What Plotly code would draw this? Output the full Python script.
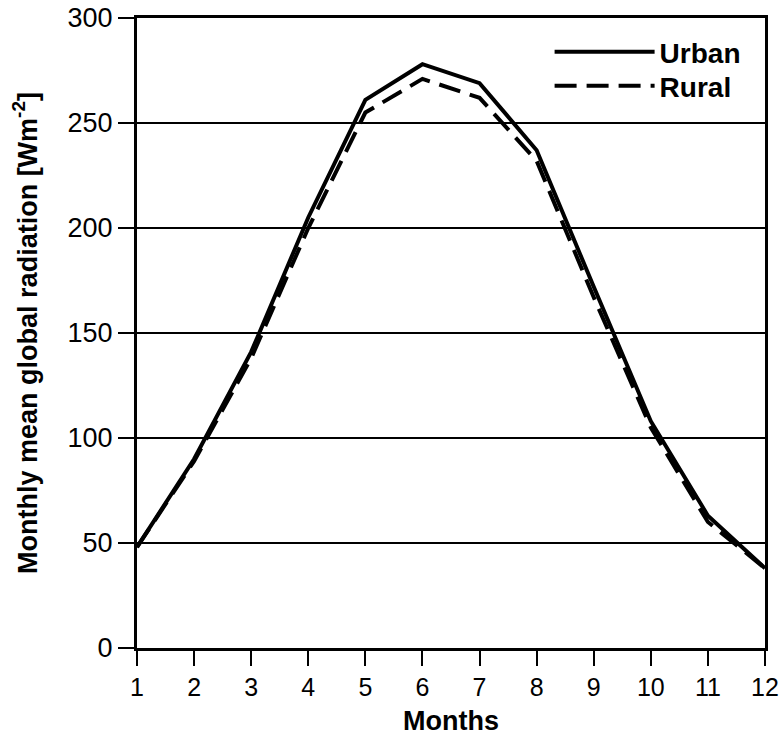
import plotly.graph_objects as go

months = [1, 2, 3, 4, 5, 6, 7, 8, 9, 10, 11, 12]
urban = [48, 90, 141, 205, 261, 278, 269, 237, 172, 108, 63, 38]
rural = [48, 89, 138, 200, 255, 271, 262, 232, 167, 105, 60, 38]
y_ticks = [0, 50, 100, 150, 200, 250, 300]

fig = go.Figure()
fig.add_trace(go.Scatter(x=months, y=urban, mode="lines", name="Urban",
                         line=dict(color="black", width=4), legend="legend"))
fig.add_trace(go.Scatter(x=months, y=rural, mode="lines", name="Rural",
                         line=dict(color="black", width=4, dash="22px,10px"),
                         legend="legend2"))

font_family = "Liberation Sans, Arial, sans-serif"
leg_common = dict(x=0.657, xanchor="left", yanchor="middle",
                  bgcolor="rgba(0,0,0,0)", itemwidth=100,
                  font=dict(size=28, family=font_family, weight="bold"))
fig.update_layout(
    width=783, height=741,
    margin=dict(l=137, r=18, t=18, b=93),
    paper_bgcolor="white", plot_bgcolor="white",
    font=dict(family=font_family, color="black", size=26),
    showlegend=True,
    legend=dict(y=0.946, **leg_common),
    legend2=dict(y=0.892, **leg_common),
    xaxis=dict(range=[1, 12], tickvals=months, ticks="outside", ticklen=15,
               tickwidth=2, tickcolor="black", showline=True, linecolor="black",
               linewidth=3, mirror=True, showgrid=False, zeroline=False,
               automargin=False,
               title=dict(text="<b>Months</b>", font=dict(size=27), standoff=12),
               tickfont=dict(size=25)),
    yaxis=dict(range=[0, 300], tickvals=y_ticks, ticks="outside", ticklen=16,
               tickwidth=2, tickcolor="black", showline=True, linecolor="black",
               linewidth=3, mirror=True, showgrid=True, gridcolor="black",
               gridwidth=2, zeroline=False, automargin="left",
               title=dict(text="<b>Monthly mean global radiation [Wm<sup>-2</sup>]</b>",
                          font=dict(size=27), standoff=23),
               tickfont=dict(size=27)),
)

fig.write_html("out.html")
